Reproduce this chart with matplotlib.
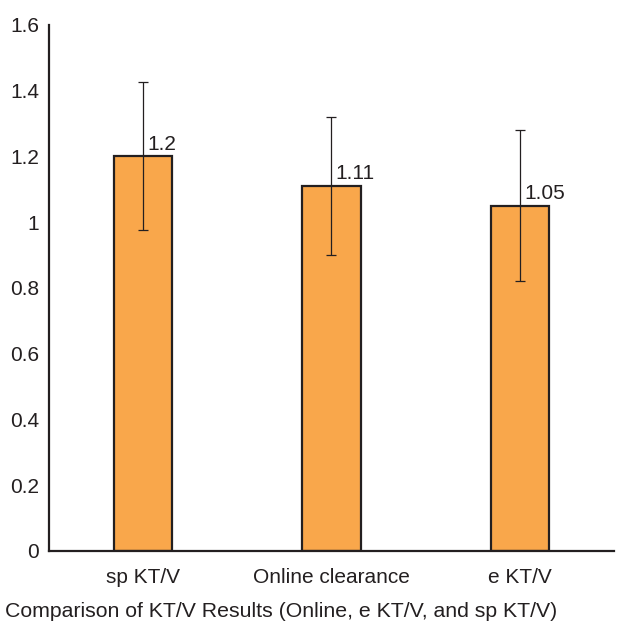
import matplotlib
matplotlib.use("Agg")
import matplotlib.pyplot as plt

# Data
categories = ["sp KT/V", "Online clearance", "e KT/V"]
values = [1.2, 1.11, 1.05]
errors = [0.225, 0.21, 0.23]
yticks = [0, 0.2, 0.4, 0.6, 0.8, 1, 1.2, 1.4, 1.6]
ytick_labels = ["0", "0.2", "0.4", "0.6", "0.8", "1", "1.2", "1.4", "1.6"]

plt.rcParams["font.family"] = ["Liberation Sans", "DejaVu Sans"]

fig = plt.figure(figsize=(6.17, 6.24), dpi=100)
ax = fig.add_axes([0.079, 0.117, 0.916, 0.843])

x = range(len(categories))
ax.bar(x, values, width=0.31, color="#F9A74B", edgecolor="#231F20", linewidth=1.6,
       yerr=errors, capsize=3.6, error_kw=dict(ecolor="#231F20", elinewidth=0.9, capthick=0.9))

for i, v in enumerate(values):
    ax.annotate(f"{v:g}", (i, v), xytext=(3, 2), textcoords="offset points",
                ha="left", va="bottom", fontsize=15, color="#231F20")

ax.set_xlim(-0.5, 2.5)
ax.set_ylim(0, 1.6)
ax.set_xticks(list(x))
ax.set_xticklabels(categories, fontsize=15, color="#231F20")
ax.set_yticks(yticks)
ax.set_yticklabels(ytick_labels, fontsize=15, color="#231F20")
ax.tick_params(length=0, pad=7)
ax.tick_params(axis="x", pad=12)

for side in ["top", "right"]:
    ax.spines[side].set_visible(False)
for side in ["left", "bottom"]:
    ax.spines[side].set_color("#231F20")
    ax.spines[side].set_linewidth(1.6)

fig.text(0.008, 0.005, "Comparison of KT/V Results (Online, e KT/V, and sp KT/V)",
         fontsize=15.3, color="#231F20", ha="left", va="bottom")

fig.savefig("out.png", dpi=100)
